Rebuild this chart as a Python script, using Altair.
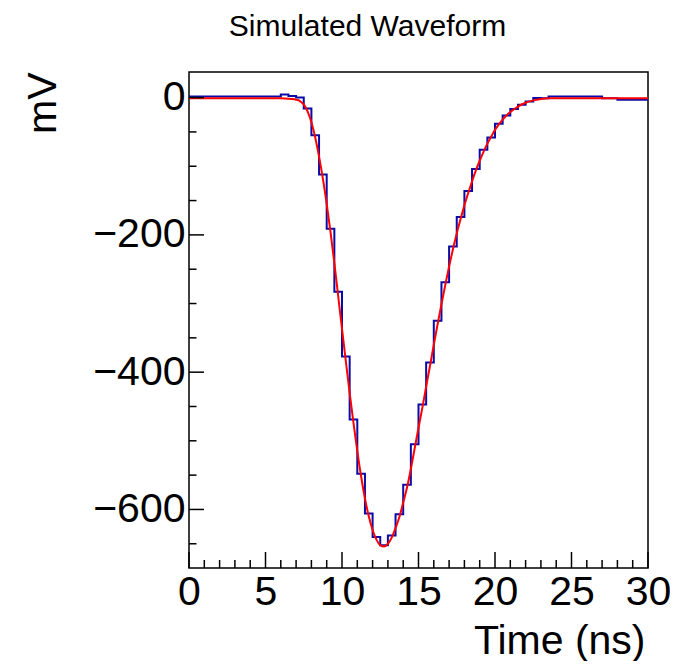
import altair as alt
import pandas as pd

# ---- data ----
bin_left = [i * 0.5 for i in range(60)]          # 0.5 ns bins, 0 .. 30 ns
hist_mv = [
    1.5, 1.5, 1.5, 1.5, 1.5, 1.5, 1.5, 1.5, 1.5, 1.5, 1.5, 1.5,
    4.4, 2.5, 0.0, -16, -55, -112, -191, -283, -377, -469,
    -548, -606, -640, -652, -638, -607, -564, -505, -447, -386,
    -325, -269, -217, -174, -136, -104, -76, -58, -38, -26,
    -16.5, -10.5, -5.5, -0.5, -1, 1.5, 1.5, 1.5, 1.5, 1.5,
    1.5, 1.5, -1, -1, -3.3, -3.3, -3.3, -3.3,
]
fit_t = [0, 6.0, 6.5, 6.75, 7.0, 7.25, 7.5, 7.75, 8.0, 8.25, 8.5, 8.75,
         9.0, 9.25, 9.5, 9.75, 10.0, 10.25, 10.5, 10.75, 11.0, 11.25, 11.5,
         11.75, 12.0, 12.25, 12.5, 12.75, 13.0, 13.25, 13.5, 13.75, 14.0,
         14.25, 14.5, 14.75, 15.0, 15.25, 15.5, 15.75, 16.0, 16.25, 16.5,
         16.75, 17.0, 17.25, 17.5, 17.75, 18.0, 18.25, 18.5, 18.75, 19.0,
         19.25, 19.5, 19.75, 20.0, 20.25, 20.5, 20.75, 21.0, 21.5, 22.0,
         22.5, 23.0, 23.5, 30.0]
fit_mv = [-1, -1, -1.5, -2, -3, -5, -10, -20, -36, -58, -86, -118,
          -155, -196, -241, -289, -337, -384, -430, -474, -515, -552, -584,
          -610, -630, -644, -652, -654, -650, -641, -627, -611, -590,
          -568, -541, -511, -481, -452, -421, -391, -360, -330, -301,
          -273, -246, -221, -198, -177, -157, -139, -122, -106, -92,
          -79, -67, -57, -47, -39, -32, -26, -21, -13, -7.5,
          -4, -2, -1, -1]
x_major = [0, 5, 10, 15, 20, 25, 30]
x_minor = [1, 2, 3, 4, 6, 7, 8, 9, 11, 12, 13, 14, 16, 17, 18, 19,
           21, 22, 23, 24, 26, 27, 28, 29]
y_major = [0, -200, -400, -600]
y_minor = [-50, -100, -150, -250, -300, -350, -450, -500, -550, -650]

W, H = 459, 496
FONT = "Liberation Sans"
FS = 41
xscale = alt.Scale(domain=[0, 30], nice=False, zero=False)
yscale = alt.Scale(domain=[-685.3, 37.3], nice=False, zero=False)

step_df = pd.DataFrame({"t": bin_left + [30.0], "v": hist_mv + [hist_mv[-1]]})
fit_df = pd.DataFrame({"t": fit_t, "v": fit_mv})

x_axis = alt.Axis(
    values=x_major, ticks=False, domain=False, grid=False,
    labelFont=FONT, labelFontSize=FS, labelColor="black",
    labelPadding=4, labelFlush=False, labelOverlap=False,
    title="Time (ns)", titleFont=FONT, titleFontSize=FS,
    titleFontWeight="normal", titleColor="black",
    titleAnchor="end", titleAlign="right", titleBaseline="alphabetic",
    titleX=456, titleY=85)
y_axis = alt.Axis(
    values=y_major, ticks=False, domain=False, grid=False,
    labelFont=FONT, labelFontSize=FS, labelColor="black",
    labelPadding=4, labelOverlap=False, labelFlush=False,
    title="mV", titleFont=FONT, titleFontSize=FS,
    titleFontWeight="normal", titleColor="black", titleAngle=270,
    titleAlign="right", titleBaseline="middle",
    titleX=-146, titleY=0)

hist = alt.Chart(step_df).mark_line(
    interpolate="step-after", color="#0a0aa8", strokeWidth=2, clip=True
).encode(
    x=alt.X("t:Q", scale=xscale, axis=x_axis),
    y=alt.Y("v:Q", scale=yscale, axis=y_axis),
)

fit = alt.Chart(fit_df).mark_line(
    interpolate="monotone", color="#ff0000", strokeWidth=2, clip=True
).encode(
    x=alt.X("t:Q", scale=xscale, axis=x_axis),
    y=alt.Y("v:Q", scale=yscale, axis=y_axis),
)

def xticks(vals, length):
    return alt.Chart(pd.DataFrame({"t": vals})).mark_rule(
        color="black", strokeWidth=1.5
    ).encode(x=alt.X("t:Q", scale=xscale, axis=x_axis),
             y=alt.value(H), y2=alt.value(H - length))

def yticks(vals, length):
    return alt.Chart(pd.DataFrame({"v": vals})).mark_rule(
        color="black", strokeWidth=1.5
    ).encode(y=alt.Y("v:Q", scale=yscale, axis=y_axis),
             x=alt.value(0), x2=alt.value(length))

chart = alt.layer(
    hist, fit,
    xticks(x_major, 16), xticks(x_minor, 8),
    yticks(y_major, 15), yticks(y_minor, 7.5),
).properties(
    width=W, height=H,
    title=alt.TitleParams("Simulated Waveform", font=FONT, fontSize=30,
                          fontWeight="normal", color="black",
                          anchor="middle", dx=-51, offset=30),
    padding={"left": 181, "top": 64, "right": 22, "bottom": 93},
    autosize=alt.AutoSizeParams(type="none"),
    background="white",
).configure_view(stroke="black", strokeWidth=1.5)

chart.save("out.html", embed_options={"renderer": "svg", "actions": False})
